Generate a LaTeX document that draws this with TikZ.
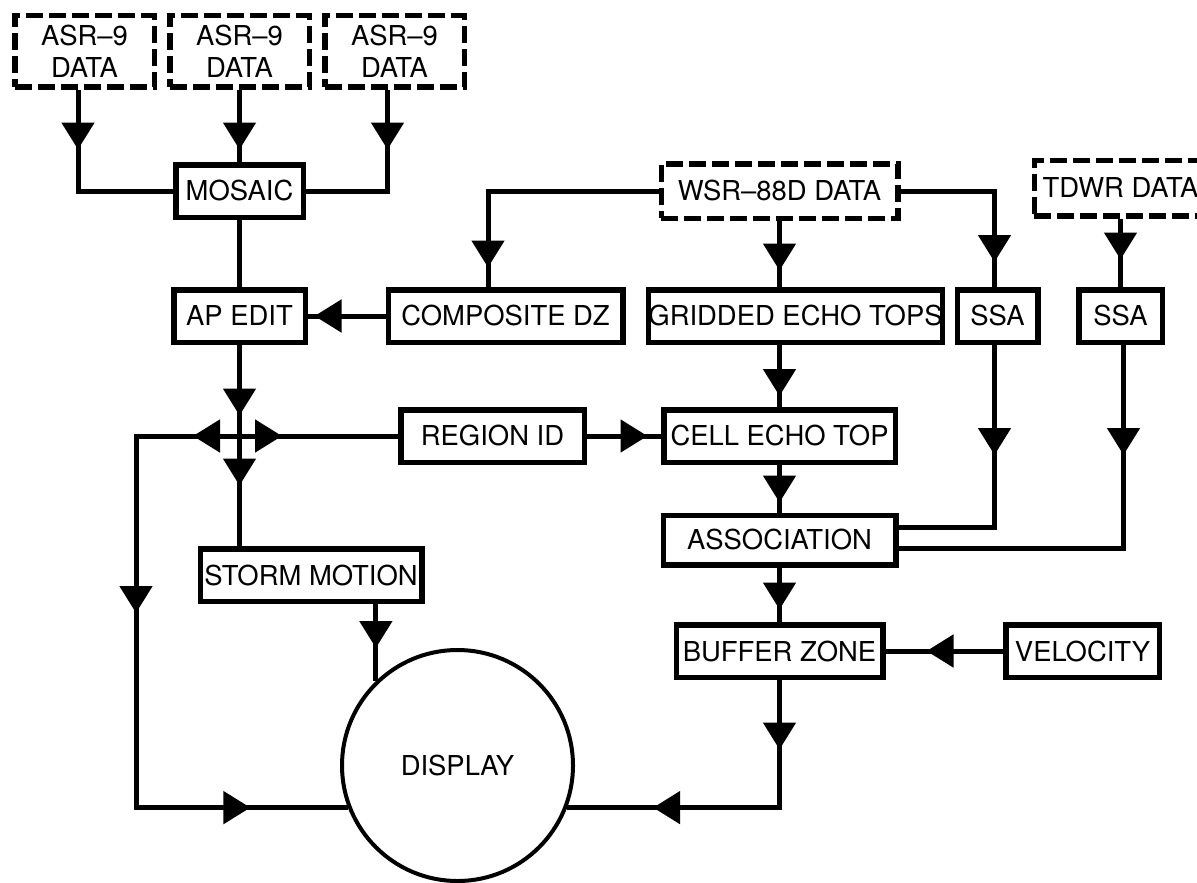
\documentclass[tikz,border=0pt]{standalone}
\usepackage{fontspec}
\setmainfont{TeX Gyre Heros}
\usetikzlibrary{positioning,arrows.meta,decorations.markings}

\begin{document}
\begin{tikzpicture}[node distance=2cm,on grid,line width=0.1cm,
    >={Triangle[width=0.64cm,length=0.54cm]}]
    \tikzset{block/.style={draw,rectangle,line width=0.11cm,inner sep=0pt,
        minimum height=1.05cm,align=center,font=\fontsize{15.6}{18}\selectfont},
      source/.style={block,dash pattern=on 0.34cm off 0.12cm},
      flowat/.style={postaction={decorate,decoration={markings,
            mark=at position #1 with {\arrow{>}}}}}}
    \path[use as bounding box,clip] (0,0) rectangle (23.94,-17.64);
    \node[source,minimum width=2.79cm,minimum height=1.43cm] (asr1) at (1.69,-1.03) {ASR–9\\DATA};
    \node[source,minimum width=2.79cm,minimum height=1.43cm] (asr2) [right = 3.1cm of asr1] {ASR–9\\DATA};
    \node[source,minimum width=2.79cm,minimum height=1.43cm] (asr3) [right = 3.1cm of asr2] {ASR–9\\DATA};
    \node[block,minimum width=2.55cm] (mosaic) [below = 2.79cm of asr2] {MOSAIC};
    \node[block,minimum width=2.63cm] (apedit) [below = 2.5cm of mosaic] {AP EDIT};
    \node[block,minimum width=4.69cm] (composite) [right = 5.32cm of apedit] {COMPOSITE DZ};
    \node[block,minimum width=5.75cm] (gridded) [right = 5.8cm of composite] {GRIDDED ECHO TOPS};
    \node[block,minimum width=1.61cm] (ssa1) [right = 4.04cm of gridded] {SSA};
    \node[block,minimum width=1.67cm] (ssa2) [right = 2.46cm of ssa1] {SSA};
    \node[source,minimum width=4.73cm,minimum height=1.09cm] (wsr) [right = 10.8cm of mosaic] {WSR–88D DATA};
    \node[source,minimum width=3.45cm,minimum height=1.11cm] (tdwr) [above = 2.56cm of ssa2] {TDWR DATA};
    \node[block,minimum width=4.63cm] (cell) [below = 4.9cm of wsr] {CELL ECHO TOP};
    \node[block,minimum width=3.67cm] (regionid) [left = 5.74cm of cell] {REGION ID};
    \node[block,minimum width=4.65cm,minimum height=0.99cm] (assoc) [below = 2.08cm of cell] {ASSOCIATION};
    \node[block,minimum width=4.13cm] (buffer) [below = 2.22cm of assoc] {BUFFER ZONE};
    \node[block,minimum width=3.07cm] (velocity) [right = 6.06cm of buffer] {VELOCITY};
    \node[block,minimum width=4.43cm] (stormmotion) [below right = 5.18cm and 1.43cm of apedit] {STORM MOTION};
    \node[block,circle,line width=0.08cm,minimum size=4.62cm] (display) [below right = 3.81cm and 2.93cm of stormmotion] {DISPLAY};

    % radar inputs
    \draw[flowat=1.19cm] ([xshift=-0.13cm]asr1.south) |- (mosaic.west);
    \draw[flowat=1.19cm] (asr2.south) -- (mosaic.north);
    \draw[flowat=1.19cm] ([xshift=-0.14cm]asr3.south) |- (mosaic.east);
    \draw (mosaic) -- (apedit);
    \draw[flowat=4.94cm] (wsr.west) -| ([xshift=-0.35cm]composite.north);
    \draw[flowat=0.99cm] (wsr.south) -- (wsr.south |- gridded.north);
    \draw[flowat=3.30cm] (wsr.east) -| ([xshift=-0.06cm]ssa1.north);
    \draw[flowat=0.82cm] (tdwr.south) -- (ssa2.north);
    \draw[flowat=1.42cm] (composite.west) -- (apedit.east);
    % echo tops chain
    \draw[flowat=1.02cm] (cell.north |- gridded.south) -- (cell.north);
    \draw[flowat=1.21cm] (regionid.east) -- (cell.west);
    \draw[flowat=2.2cm] ([xshift=-0.06cm]ssa1.south) |- ([yshift=0.26cm]assoc.east);
    \draw[flowat=2.2cm] ([xshift=0.06cm]ssa2.south) |- ([yshift=-0.16cm]assoc.east);
    \draw[flowat=0.75cm] (cell) -- (assoc);
    \draw[flowat=0.84cm] (assoc) -- (buffer);
    \draw[flowat=1.53cm] (velocity) -- (buffer);
    \draw[flowat=1.39cm,flowat=5.08cm] (buffer.south) |- (display.-21);
    % storm motion branch
    \draw[flowat=1.41cm,flowat=2.81cm] (apedit.south) -- (apedit.south |- stormmotion.north);
    \coordinate (hub) at (apedit.south |- regionid.west);
    \draw[flowat=0.85cm] (hub) -- (regionid.west);
    \draw[flowat=0.93cm,flowat=5.61cm,flowat=11.79cm] (hub) -- ++(-2.07,0) |- (display.201);
    \draw[flowat=0.88cm] (stormmotion.south -| display.134) -- (display.134);
\end{tikzpicture}
\end{document}
